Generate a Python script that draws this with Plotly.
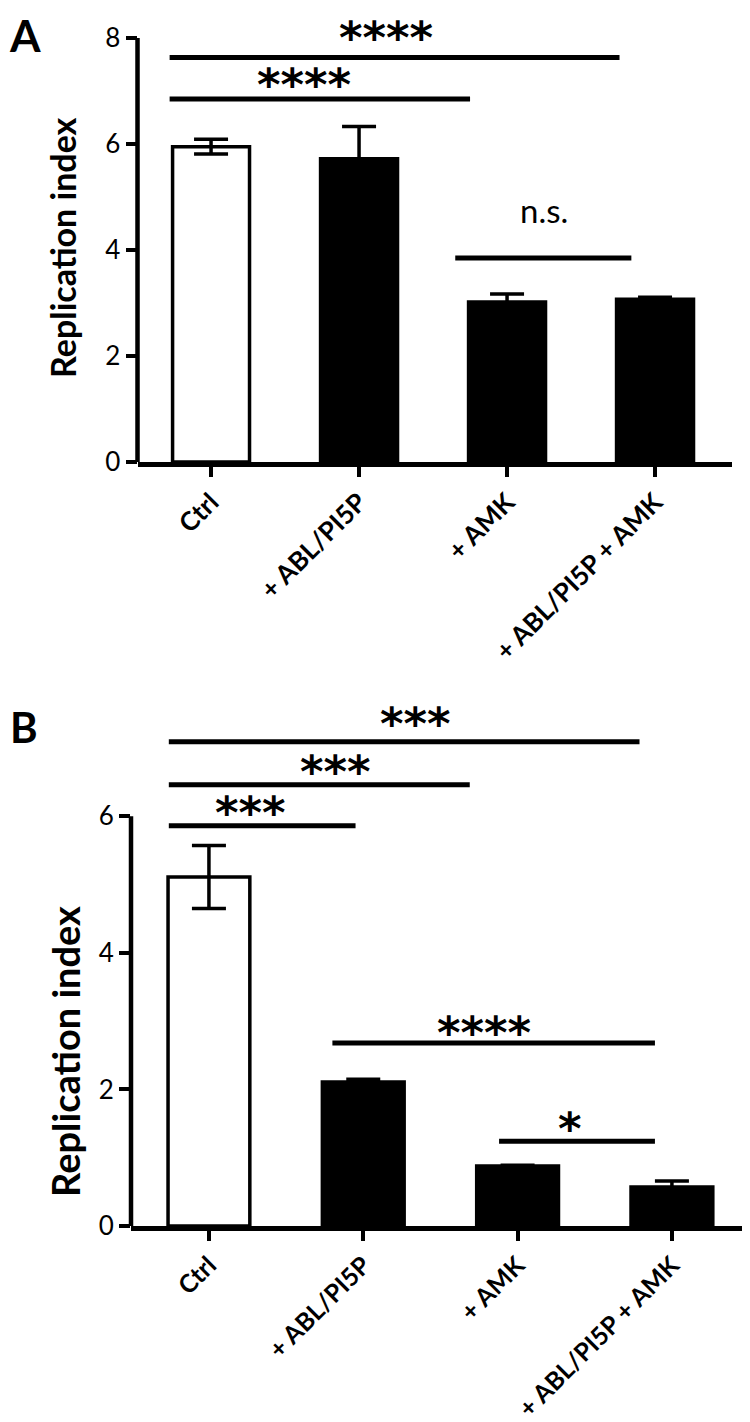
import plotly.graph_objects as go

groups = ['Ctrl', '+ ABL/PI5P', '+ AMK', '+ ABL/PI5P + AMK']
bar_fill = ['white', 'black', 'black', 'black']

# panel A - replication index, mean and SEM
a_mean = [5.95, 5.72, 3.02, 3.07]
a_err = [0.14, 0.61, 0.15, 0.04]

# panel B
b_mean = [5.11, 2.11, 0.88, 0.57]
b_err = [0.46, 0.04, 0.01, 0.09]

# significance bars: start / end (category units), height, label, label x, label y
a_sig_x0 = [-0.28, -0.28, 1.65]
a_sig_x1 = [2.76, 1.75, 2.84]
a_sig_y = [7.63, 6.85, 3.85]
a_sig_txt = ['****', '****', 'n.s.']
a_txt_x = [1.18, 0.63, 2.25]
a_txt_y = [8.13, 7.24, 4.75]

b_sig_x0 = [-0.26, -0.26, -0.26, 0.80, 1.88]
b_sig_x1 = [2.79, 1.69, 0.95, 2.89, 2.89]
b_sig_y = [7.09, 6.46, 5.86, 2.68, 1.24]
b_sig_txt = ['***', '***', '***', '****', '*']
b_txt_x = [1.34, 0.82, 0.27, 1.78, 2.34]
b_txt_y = [7.45, 6.75, 6.14, 2.92, 1.515]

pos = list(range(len(groups)))

# page is 750x1422, the html body adds an 8px margin -> work in reference pixels
W, H, OFF = 750, 1422, 8


def fx(px):
    return (px - OFF) / W


def fy(py):
    return 1 - (py - OFF) / H


fig = go.Figure()
for mean, err, xa, ya, bw in [(a_mean, a_err, 'x', 'y', 0.52), (b_mean, b_err, 'x2', 'y2', 0.53)]:
    fig.add_trace(go.Bar(
        x=pos, y=mean,
        xaxis=xa, yaxis=ya,
        width=bw,
        marker=dict(color=bar_fill, line=dict(color='black', width=3.5)),
        error_y=dict(type='data', array=err, visible=True,
                     color='black', thickness=3.5, width=17),
    ))

xcommon = dict(
    tickmode='array', tickvals=pos, ticktext=groups, tickangle=-45,
    showline=True, linewidth=4.5, linecolor='black',
    ticks='outside', ticklen=10, tickwidth=3.5, tickcolor='black',
    showgrid=False, zeroline=False, automargin=False,
)
ycommon = dict(
    showline=False, ticks='outside', ticklen=11, tickwidth=3.5, tickcolor='black',
    showgrid=False, zeroline=False, automargin=False,
    tickfont=dict(family='Lato', size=26, color='black'),
)

fig.update_layout(
    width=W, height=H,
    margin=dict(l=0, r=0, t=0, b=0),
    paper_bgcolor='white', plot_bgcolor='white',
    showlegend=False,
    xaxis=dict(domain=[fx(137.5), fx(732)], range=[-0.497, 3.52], anchor='y',
               tickfont=dict(family='Lato', size=26, color='black', weight='bold'), **xcommon),
    yaxis=dict(domain=[fy(462), fy(11.5)], range=[0, 8.5], tickvals=[0, 2, 4, 6, 8],
               anchor='x', **ycommon),
    xaxis2=dict(domain=[fx(131), fx(748)], range=[-0.505, 3.493], anchor='y2',
                tickfont=dict(family='Lato', size=25, color='black', weight='bold'), **xcommon),
    yaxis2=dict(domain=[fy(1226), fy(693.3)], range=[0, 7.8], tickvals=[0, 2, 4, 6],
                anchor='x2', **ycommon),
)

# y axis lines only up to the top tick
fig.add_shape(type='line', xref='x domain', yref='y', x0=0, x1=0, y0=0, y1=8,
              line=dict(color='black', width=4.5))
fig.add_shape(type='line', xref='x2 domain', yref='y2', x0=0, x1=0, y0=0, y1=6,
              line=dict(color='black', width=4.5))

for xa, ya, x0s, x1s, ys, txts, tx, ty in [
        ('x', 'y', a_sig_x0, a_sig_x1, a_sig_y, a_sig_txt, a_txt_x, a_txt_y),
        ('x2', 'y2', b_sig_x0, b_sig_x1, b_sig_y, b_sig_txt, b_txt_x, b_txt_y)]:
    for x0, x1, y, t, txx, tyy in zip(x0s, x1s, ys, txts, tx, ty):
        fig.add_shape(type='line', xref=xa, yref=ya, x0=x0, x1=x1, y0=y, y1=y,
                      line=dict(color='black', width=5))
        if t == 'n.s.':
            font = dict(family='Lato', size=33, color='black')
            shift = 0
        else:
            font = dict(family='DejaVu Sans', size=45, color='black', weight='bold')
            shift = -6
        fig.add_annotation(x=txx, y=tyy, xref=xa, yref=ya, text=t, showarrow=False,
                           xanchor='center', yanchor='middle', yshift=shift, font=font)

# axis titles
fig.add_annotation(x=fx(62.5), y=fy(247.5), xref='paper', yref='paper', text='Replication index',
                   textangle=-90, showarrow=False, xanchor='center', yanchor='middle',
                   font=dict(family='Lato', size=34, color='black', weight='bold'))
fig.add_annotation(x=fx(65), y=fy(1052), xref='paper', yref='paper', text='Replication index',
                   textangle=-90, showarrow=False, xanchor='center', yanchor='middle',
                   font=dict(family='Lato', size=38, color='black', weight='bold'))

# panel letters (kept just inside the page edges)
fig.add_annotation(x=0, y=1, xref='paper', yref='paper', text='A', showarrow=False,
                   xanchor='left', yanchor='top', borderpad=0,
                   font=dict(family='Lato', size=44, color='black', weight='bold'))
fig.add_annotation(x=0, y=fy(727), xref='paper', yref='paper', text='B', showarrow=False,
                   xanchor='left', yanchor='middle',
                   font=dict(family='Lato', size=42, color='black', weight='bold'))

fig.write_html('out.html')
